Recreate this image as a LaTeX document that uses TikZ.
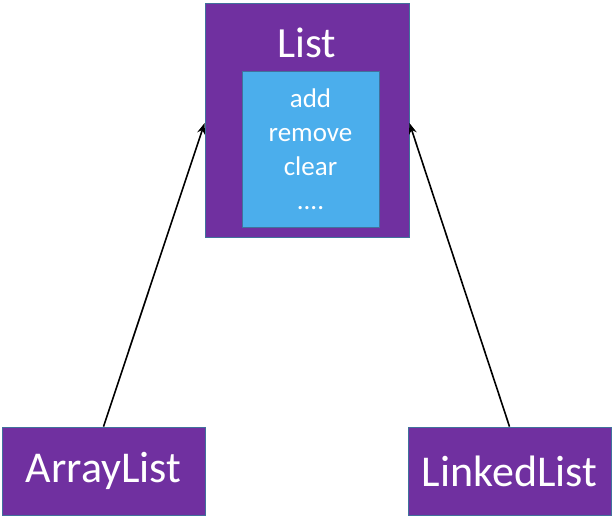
\documentclass[tikz,border=0pt]{standalone}
\usepackage{fontspec}
\setmainfont{Carlito}
\usetikzlibrary{arrows.meta}
\definecolor{classpurple}{HTML}{7030A0}
\definecolor{opsblue}{HTML}{4BAEEC}
\definecolor{edgeblue}{HTML}{41719C}
\tikzset{
    classbox/.style={draw=edgeblue, fill=classpurple, line width=0.8pt, text=white, inner sep=0pt},
    opsbox/.style={draw=edgeblue, fill=opsblue, line width=0.8pt, text=white, inner sep=0pt, align=center},
    inherits/.style={-{Stealth[length=11pt,width=8pt]}, black, line width=1.6pt}
}
\begin{document}
\begin{tikzpicture}[x=1pt, y=-1pt]
    \useasboundingbox (0,0) rectangle (613,518);
    % the interface
    \node[classbox, minimum width=204pt, minimum height=234pt] (list) at (307,120) {};
    \node[text=white, font=\fontsize{43}{46}\selectfont] (listname) at (307,43) {List};
    \node[opsbox, minimum width=137pt, minimum height=156pt,
          font=\fontsize{27}{34}\selectfont] (ops) at (310.5,149) {add\\remove\\clear\\....};

    % the implementations
    \node[classbox, minimum width=203pt, minimum height=88pt,
          font=\fontsize{44}{46}\selectfont] (arraylist) at (103.5,471) {ArrayList};
    \node[classbox, minimum width=203pt, minimum height=88pt,
          font=\fontsize{44}{46}\selectfont] (linkedlist) at (509.5,471) {LinkedList};

    \draw[inherits] (arraylist.north) -- ([yshift=-3pt]list.west);
    \draw[inherits] (linkedlist.north) -- ([yshift=-3pt]list.east);
\end{tikzpicture}
\end{document}
